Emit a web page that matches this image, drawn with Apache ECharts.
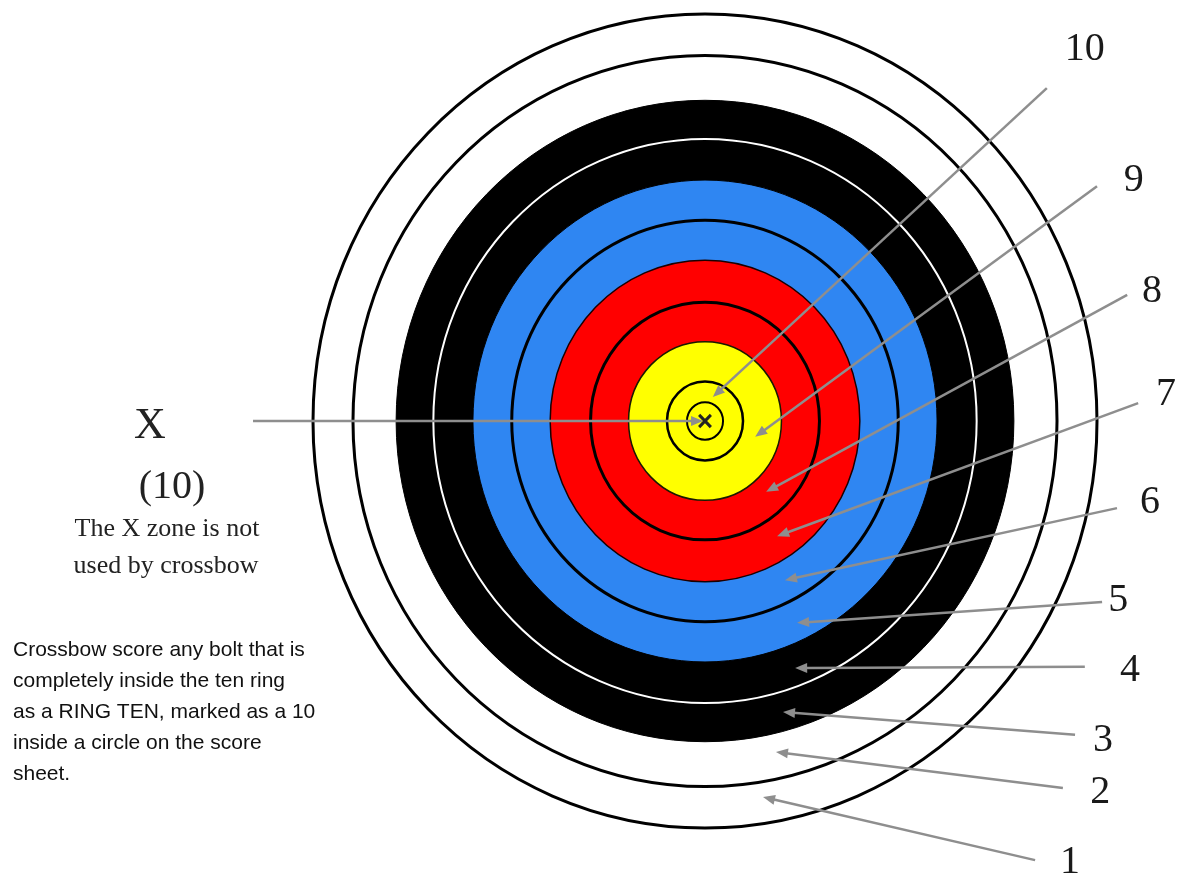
<!DOCTYPE html>
<html><head><meta charset="utf-8">
<script src="https://cdn.jsdelivr.net/npm/echarts@6/dist/echarts.min.js"></script>
<style>html,body{margin:0;padding:0;background:#fff}#c{width:1179px;height:881px}</style>
</head><body><div id="c"></div>
<script>
// ---- data (target units: ring 1 outer edge = 10) ----
const ringNames = ['1', '2', '3', '4', '5', '6', '7', '8', '9', '10', 'X'];
const ringOuterRadius = [10, 8.98, 7.88, 6.93, 5.92, 4.93, 3.95, 2.92, 1.95, 0.97, 0.46];
const labelNames = ['10', '9', '8', '7', '6', '5', '4', '3', '2', '1'];
const arrowTipX = [0.20, 1.28, 1.56, 1.84, 2.04, 2.35, 2.30, 1.99, 1.81, 1.48];
const arrowTipY = [0.59, -0.39, -1.74, -2.83, -3.91, -4.96, -6.07, -7.15, -8.13, -9.24];
const arrowTailX = [8.72, 10.0, 10.77, 11.05, 10.51, 10.13, 9.69, 9.44, 9.13, 8.42];
const arrowTailY = [8.18, 5.77, 3.10, 0.44, -2.14, -4.45, -6.04, -7.71, -9.02, -10.79];
const labelX = [9.69, 10.94, 11.40, 11.76, 11.35, 10.54, 10.84, 10.15, 10.08, 9.31];
const labelY = [9.12, 5.92, 3.17, 0.64, -2.01, -4.40, -6.12, -7.84, -9.12, -10.84];
const xArrowTail = [-11.53, 0];
const xArrowTip = [-0.05, 0];
const noteTitle = ['X', '(10)'];
const noteSub = ['The X zone is not', 'used by crossbow'];
const noteBody = ['Crossbow score any bolt that is', 'completely inside the ten ring', 'as a RING TEN, marked as a 10', 'inside a circle on the score', 'sheet.'];

// ---- styles ----
const ringFill = ['#ffffff', '#ffffff', '#000000', '#000000', '#2f86f2', '#2f86f2', '#ff0000', '#ff0000', '#ffff00', '#ffff00', '#ffff00'];
const ringStroke = ['#000000', '#000000', '#000000', '#ffffff', '#000000', '#000000', '#1a0000', '#000000', '#1a1a00', '#000000', '#000000'];
const ringLineWidth = [3, 3, 1, 2, 1, 3, 1.5, 3, 1.5, 2.5, 2];
const arrowColor = '#8e8e8e';

const ringData = ringOuterRadius.map((r, i) => [r, i]);
const arrowData = labelNames.map((n, i) => [arrowTailX[i], arrowTailY[i], arrowTipX[i], arrowTipY[i]]);
arrowData.push([xArrowTail[0], xArrowTail[1], xArrowTip[0], xArrowTip[1]]);
const labelData = labelNames.map((n, i) => [labelX[i], labelY[i], n]);

function arrowItem(params, api) {
  const a = api.coord([api.value(0), api.value(1)]);
  const b = api.coord([api.value(2), api.value(3)]);
  const dx = b[0] - a[0], dy = b[1] - a[1];
  const len = Math.sqrt(dx * dx + dy * dy);
  const ux = dx / len, uy = dy / len;
  const hl = 12, hw = 5;
  const base = [b[0] - ux * hl, b[1] - uy * hl];
  return {
    type: 'group',
    children: [
      { type: 'line', shape: { x1: a[0], y1: a[1], x2: base[0] + ux * 2, y2: base[1] + uy * 2 },
        style: { stroke: arrowColor, lineWidth: 2.5 } },
      { type: 'polygon', shape: { points: [b, [base[0] - uy * hw, base[1] + ux * hw], [base[0] + uy * hw, base[1] - ux * hw]] },
        style: { fill: arrowColor } }
    ]
  };
}

const chart = echarts.init(document.getElementById('c'));
chart.setOption({
  animation: false,
  backgroundColor: '#ffffff',
  grid: { left: 313, width: 784, top: 14, height: 814 },
  xAxis: { type: 'value', min: -10, max: 10, show: false },
  yAxis: { type: 'value', min: -10, max: 10, show: false },
  series: [
    {
      type: 'custom', name: 'rings', clip: false, z: 1,
      data: ringData,
      renderItem: function (params, api) {
        const r = api.value(0), i = api.value(1);
        const c = api.coord([0, 0]);
        const s = api.size([r, r]);
        return {
          type: 'ellipse',
          shape: { cx: c[0], cy: c[1], rx: s[0], ry: s[1] },
          style: { fill: ringFill[i], stroke: ringStroke[i], lineWidth: ringLineWidth[i] }
        };
      }
    },
    {
      type: 'custom', name: 'centre', clip: false, z: 2,
      data: [[0, 0]],
      renderItem: function (params, api) {
        const c = api.coord([api.value(0), api.value(1)]);
        const s = api.size([0.15, 0.15]);
        return {
          type: 'group',
          children: [
            { type: 'line', shape: { x1: c[0] - s[0], y1: c[1] - s[1], x2: c[0] + s[0], y2: c[1] + s[1] }, style: { stroke: '#222', lineWidth: 3 } },
            { type: 'line', shape: { x1: c[0] - s[0], y1: c[1] + s[1], x2: c[0] + s[0], y2: c[1] - s[1] }, style: { stroke: '#222', lineWidth: 3 } }
          ]
        };
      }
    },
    {
      type: 'custom', name: 'arrows', clip: false, z: 3,
      data: arrowData,
      renderItem: arrowItem
    },
    {
      type: 'custom', name: 'labels', clip: false, z: 4,
      data: labelData,
      renderItem: function (params, api) {
        const p = api.coord([api.value(0), api.value(1)]);
        return {
          type: 'text',
          style: { text: labelNames[params.dataIndex], x: p[0], y: p[1], align: 'center', verticalAlign: 'middle',
                   fill: '#1a1a1a', font: '40px "Liberation Serif", "DejaVu Serif", serif' }
        };
      }
    }
  ],
  graphic: [
    { type: 'text', x: 150, y: 426, style: { text: noteTitle[0], align: 'center', verticalAlign: 'middle', fill: '#222', font: '44px "Liberation Serif", serif' } },
    { type: 'text', x: 172, y: 487, style: { text: noteTitle[1], align: 'center', verticalAlign: 'middle', fill: '#222', font: '40px "Liberation Serif", serif' } },
    { type: 'text', x: 167, y: 529, style: { text: noteSub[0], align: 'center', verticalAlign: 'middle', fill: '#222', font: '26px "Liberation Serif", serif' } },
    { type: 'text', x: 166, y: 566, style: { text: noteSub[1], align: 'center', verticalAlign: 'middle', fill: '#222', font: '26px "Liberation Serif", serif' } },
    { type: 'text', x: 13, y: 635, style: { text: noteBody.join('\n'), align: 'left', verticalAlign: 'top', lineHeight: 31, fill: '#111', font: '21px "Liberation Sans", Arial, sans-serif' } }
  ]
});
</script></body></html>
